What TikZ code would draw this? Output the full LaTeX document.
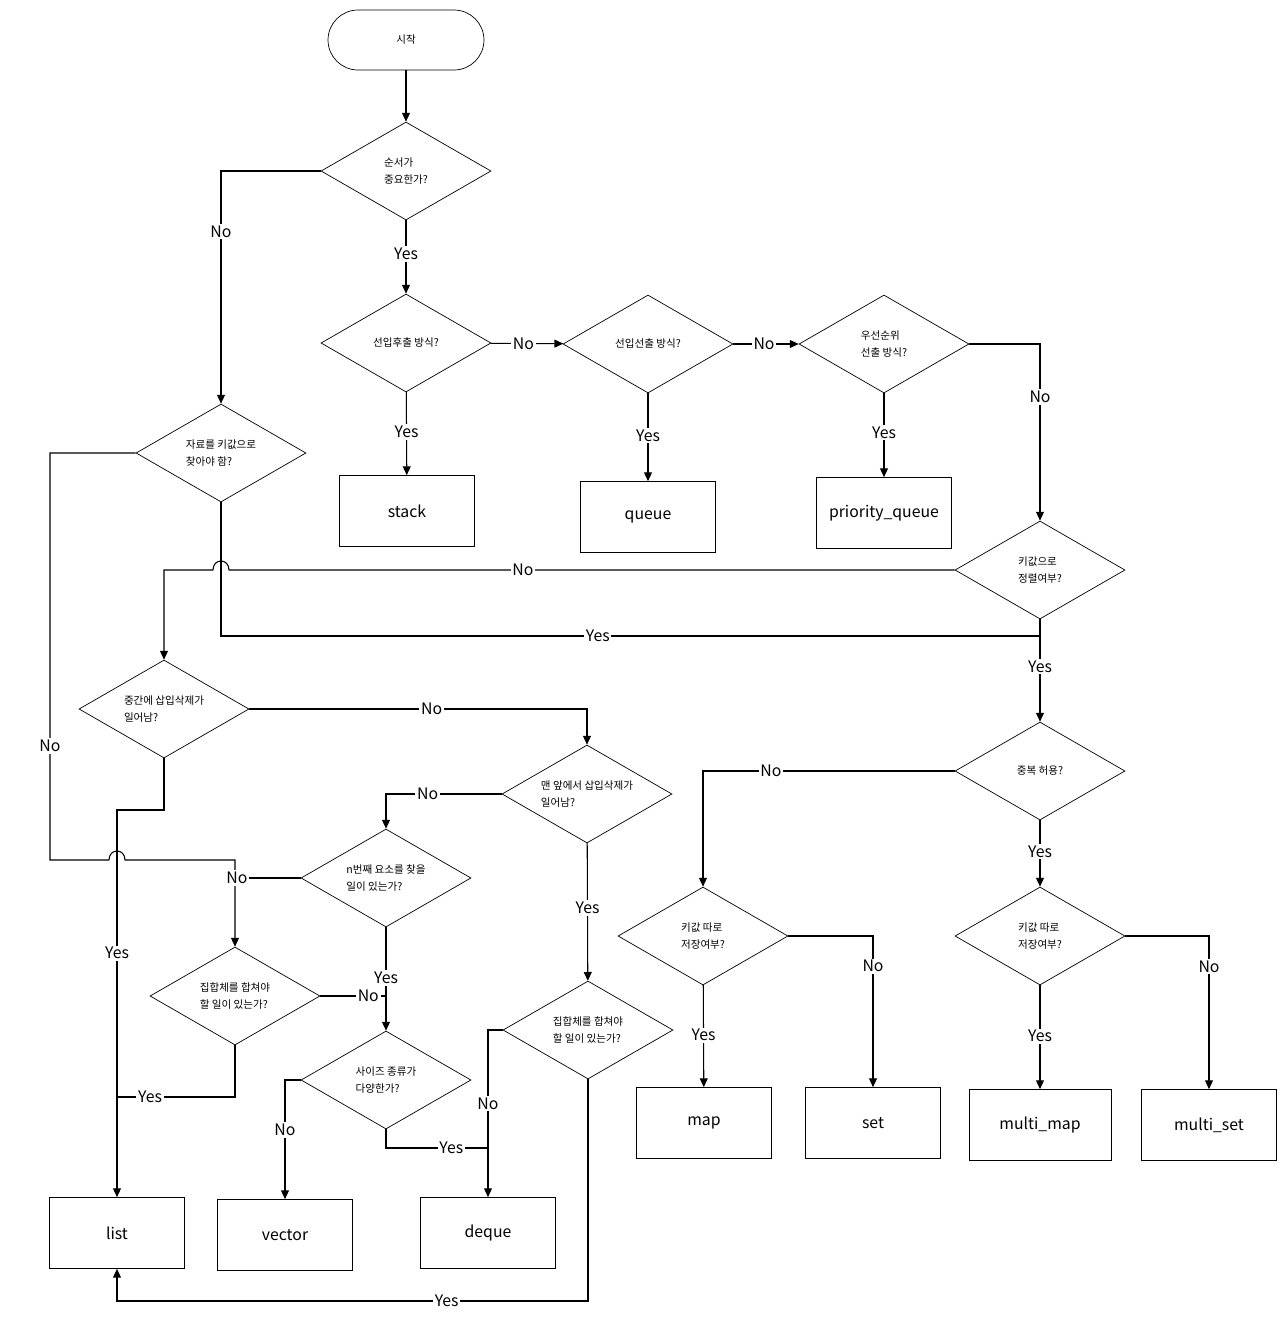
\documentclass[tikz,border=0pt]{standalone}
\usepackage{fontspec}
\setmainfont{Noto Sans CJK KR}
\usetikzlibrary{positioning,arrows.meta,shapes.geometric}

\begin{document}
\begin{tikzpicture}[
  x=0.02cm, y=-0.02cm,
  font=\fontsize{9}{11}\selectfont,
  startbox/.style={draw, rounded corners=0.6cm, minimum width=3.12cm, minimum height=1.2cm,
                   font=\fontsize{6}{8}\selectfont},
  ask/.style={draw, diamond, aspect=1.75, inner sep=0pt, align=left,
              minimum width=3.4cm, minimum height=1.96cm, font=\fontsize{6}{10}\selectfont},
  result/.style={draw, minimum width=2.7cm, minimum height=1.42cm},
  arr/.style={-{Triangle[length=5pt,width=4.5pt]}, line width=0.6pt},
  link/.style={line width=0.6pt},
  lbl/.style={fill=white, inner sep=1pt},
]
\useasboundingbox (0,0) rectangle (1280,1323);

% 위쪽: 시작 ~ 우선순위
\node[startbox] (start) at (406,40) {시작};
\node[ask] (d1) at (406,171) {순서가\\중요한가?};
\node[ask] (d2) at (406,343) {선입후출 방식?};
\node[ask] (d3) at (648,344) {선입선출 방식?};
\node[ask] (d4) at (884,344) {우선순위\\선출 방식?};
\node[ask] (d5) at (221,453) {자료를 키값으로\\찾아야 함?};
\node[result] (stack) at (407,511) {stack};
\node[result] (queue) at (648,517) {queue};
\node[result] (pq)    at (884,513) {priority\_queue};

% 키값 쪽
\node[ask] (d6)  at (1040,570) {키값으로\\정렬여부?};
\node[ask] (d8)  at (1040,771) {중복 허용?};
\node[ask] (d11) at (703,936)  {키값 따로\\저장여부?};
\node[ask] (d12) at (1040,936) {키값 따로\\저장여부?};
\node[result] (map)  at (704,1123)  {map};
\node[result] (set)  at (873,1123)  {set};
\node[result, minimum width=2.84cm] (mmap) at (1040,1125) {multi\_map};
\node[result] (mset) at (1209,1125) {multi\_set};

% 순차 컨테이너 쪽
\node[ask] (d7)  at (164,709)  {중간에 삽입삭제가\\일어남?};
\node[ask] (d9)  at (587,794)  {맨 앞에서 삽입삭제가\\일어남?};
\node[ask] (d10) at (386,878)  {n번째 요소를 찾을\\일이 있는가?};
\node[ask] (d13) at (235,996)  {집합체를 합쳐야\\할 일이 있는가?};
\node[ask] (d14) at (588,1030) {집합체를 합쳐야\\할 일이 있는가?};
\node[ask] (d15) at (386,1080) {사이즈 종류가\\다양한가?};
\node[result] (list)   at (117,1233) {list};
\node[result] (vector) at (285,1235) {vector};
\node[result] (deque)  at (488,1233) {deque};

\coordinate (hopR) at (229,570);
\coordinate (hopL) at (213,570);
\coordinate (hop2L) at (109,860);
\coordinate (hop2R) at (125,860);
\coordinate (leftB) at (50,860);
\coordinate (join5) at (1040,636);
\coordinate (knee7) at (117,810);
\coordinate (join10) at (235,878);
\coordinate (join13) at (386,996);
\coordinate (join13b) at (117,1097);
\coordinate (join15) at (488,1148);
\coordinate (botL) at (117,1301);

\draw[arr] (start) -- (d1);
\draw[arr] (d1) -- node[lbl, pos=0.46]{Yes} (d2);
\draw[arr] (d1.west) -| node[lbl, pos=0.63]{No} (d5.north);
\draw[arr] (d2) -- node[lbl, pos=0.45]{No} (d3);
\draw[arr] (d2) -- node[lbl, pos=0.48]{Yes} (stack);
\draw[arr] (d3) -- node[lbl, pos=0.47]{No} (d4);
\draw[arr] (d3) -- node[lbl, pos=0.48]{Yes} (queue);
\draw[arr] (d4) -- node[lbl, pos=0.47]{Yes} (pq);
\draw[arr] (d4.east) -| node[lbl, pos=0.65]{No} (d6.north);

% 키값 정렬 No: 선을 넘어가는 점프
\draw[arr] (d6.west) -- node[lbl, pos=0.595]{No} (hopR)
  .. controls +(0,-12) and +(0,-12) .. (hopL) -| (d7.north);
\draw[link] (d5.south) |- node[lbl, pos=0.73]{Yes} (join5);
\draw[arr] (d6) -- node[lbl, pos=0.46]{Yes} (d8);

\draw[arr] (d5.west) -| node[lbl, pos=0.86]{No} (leftB) -- (hop2L)
  .. controls +(0,-12) and +(0,-12) .. (hop2R) -| (d13.north);

\draw[arr] (d7.south) |- (knee7) -- node[lbl, pos=0.37]{Yes} (list.north);
\draw[arr] (d7.east) -| node[lbl, pos=0.27]{No} (d9.north);
\draw[arr] (d9.west) -| node[lbl, pos=0.32]{No} (d10.north);
\draw[arr] (d9) -- node[lbl, pos=0.47]{Yes} (d14);
\draw[link] (d10.west) -- node[lbl, pos=0.97]{No} (join10);
\draw[arr] (d10) -- node[lbl, pos=0.49]{Yes} (d15);
\draw[link] (d13.east) -- node[lbl, pos=0.73]{No} (join13);
\draw[link] (d13.south) |- node[lbl, pos=0.86]{Yes} (join13b);
\draw[arr] (d15.west) -| node[lbl, pos=0.71]{No} (vector.north);
\draw[link] (d15.south) |- node[lbl, pos=0.82]{Yes} (join15);
\draw[arr] (d14.west) -| node[lbl, pos=0.72]{No} (deque.north);
\draw[arr] (d14.south) |- node[lbl, pos=0.65]{Yes} (botL) -- (list.south);

\draw[arr] (d8.west) -| node[lbl, pos=0.365]{No} (d11.north);
\draw[arr] (d8) -- node[lbl, pos=0.47]{Yes} (d12);
\draw[arr] (d11) -- node[lbl, pos=0.49]{Yes} (map);
\draw[arr] (d11.east) -| node[lbl, pos=0.6]{No} (set.north);
\draw[arr] (d12) -- node[lbl, pos=0.49]{Yes} (mmap);
\draw[arr] (d12.east) -| node[lbl, pos=0.6]{No} (mset.north);
\end{tikzpicture}
\end{document}
